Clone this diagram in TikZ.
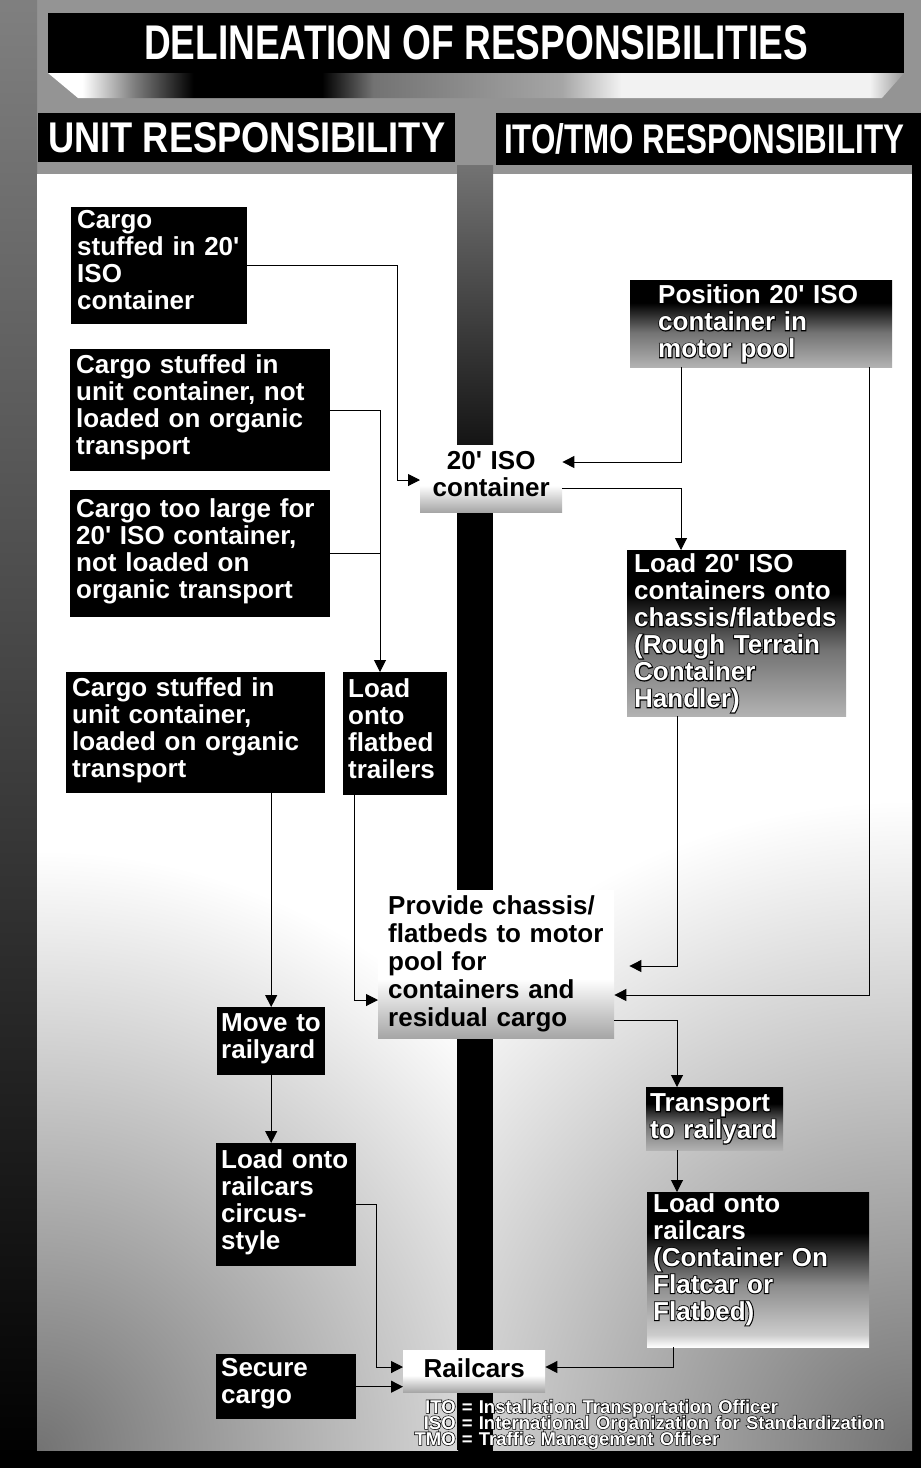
\documentclass[tikz,border=0pt]{standalone}
\usepackage{graphicx}
\usepackage{fontspec}
\setmainfont{Liberation Sans}
\newfontfamily\olfont{Liberation Sans Bold}[FakeBold=7]
\usetikzlibrary{arrows.meta}
\hyphenpenalty=10000
\exhyphenpenalty=10000
\newcommand{\apos}{\textquotesingle}
\newcommand{\ol}[1]{\leavevmode\rlap{\olfont\mdseries\color{black}#1}#1}
\newcommand{\dn}[1][11pt]{\rule[-#1]{0pt}{#1}}
\pgfdeclarehorizontalshading{undershade}{100bp}{color(0bp)=(white); color(25bp)=(white); color(27bp)=(white); color(30bp)=(black!50); color(33.5bp)=(black); color(41bp)=(black); color(44bp)=(black!55); color(55bp)=(black!35); color(58.5bp)=(black!5); color(73bp)=(black!5); color(75bp)=(black!40); color(100bp)=(black!40)}
\pgfdeclareverticalshading{gradA}{100bp}{color(0bp)=(black!30); color(25bp)=(black!30); color(45bp)=(black!55); color(62bp)=(black); color(100bp)=(black)}
\pgfdeclareverticalshading{gradB}{100bp}{color(0bp)=(white); color(25bp)=(white); color(29bp)=(black!20); color(45bp)=(black!45); color(62bp)=(black); color(100bp)=(black)}
\pgfdeclareverticalshading{labshade}{100bp}{color(0bp)=(black!35); color(25bp)=(black!35); color(35bp)=(black!18); color(45bp)=(white); color(100bp)=(white)}
\tikzset{
  blk/.style={fill=black, text=white, anchor=north west, align=left, inner ysep=0pt,
    font=\bfseries\fontsize{26}{27}\selectfont},
  grd/.style={shade, shading=gradA, text=white, anchor=north west, align=left, inner ysep=0pt,
    font=\bfseries\fontsize{26}{27}\selectfont},
  lab/.style={shade, shading=labshade, text=black, anchor=north west, inner sep=0pt,
    font=\bfseries\fontsize{26}{27}\selectfont},
  hdr/.style={fill=black, text=white, anchor=north west, inner sep=0pt},
  arr/.style={line width=1pt, -{Triangle[length=12pt,width=12pt]}},
  ln/.style={line width=1pt},
}
\begin{document}
\begin{tikzpicture}[x=1pt,y=-1pt]
\useasboundingbox (0,0) rectangle (921,1468);
% background
\fill[black!42] (0,0) rectangle (921,1468);
\shade[top color=black!50, bottom color=black] (0,0) rectangle (37,1468);
\fill[black] (0,1450) rectangle (921,1468);
\fill[black] (912,113) rectangle (921,1468);
% panels
\begin{scope}
\clip (37,174) rectangle (458,1450);
\fill[white] (37,174) rectangle (458,1450);
\shade[inner color=black!55, outer color=white] (37,1450) circle (600pt);
\end{scope}
\begin{scope}
\clip (493,174) rectangle (912,1450);
\fill[white] (493,174) rectangle (912,1450);
\shade[inner color=black!55, outer color=white] (912,1450) circle (650pt);
\end{scope}
% middle bar
\shade[top color=black!55, bottom color=black!92] (457,165) rectangle (493,445);
\fill[black] (457,445) rectangle (493,1450);
% title
\shade[shading=undershade] (48,73) -- (904,73) -- (882,98) -- (78,98) -- cycle;
\node[hdr, minimum width=856pt, minimum height=60pt] (title) at (48,13)
  {\resizebox{664pt}{34pt}{\bfseries DELINEATION OF RESPONSIBILITIES}};
\node[hdr, minimum width=417pt, minimum height=49pt] (unit) at (38,113)
  {\resizebox{397pt}{30pt}{\bfseries UNIT RESPONSIBILITY}};
\node[hdr, minimum width=416pt, minimum height=52pt] (ito) at (496,113)
  {\resizebox{400pt}{30pt}{\bfseries ITO/TMO RESPONSIBILITY}};
% unit column
\node[blk, minimum width=176pt, minimum height=117pt, text width=164pt, inner xsep=6pt] (n1) at (71,207)
  {Cargo\\stuffed in 20\apos\\ISO\\container\dn};
\node[blk, minimum width=260pt, minimum height=122pt, text width=248pt, inner xsep=6pt] (n2) at (70,349)
  {Cargo stuffed in\\unit container, not\\loaded on organic\\transport\dn};
\node[blk, minimum width=260pt, minimum height=127pt, text width=248pt, inner xsep=6pt] (n3) at (70,490)
  {Cargo too large for\\20\apos{} ISO container,\\not loaded on\\organic transport\dn};
\node[blk, minimum width=259pt, minimum height=121pt, text width=247pt, inner xsep=6pt] (n4) at (66,672)
  {Cargo stuffed in\\unit container,\\loaded on organic\\transport\dn};
\node[blk, minimum width=104pt, minimum height=123pt, text width=94pt, inner xsep=5pt] (n5) at (343,672)
  {Load\\onto\\flatbed\\trailers\dn};
\node[blk, minimum width=108pt, minimum height=68pt, text width=100pt, inner xsep=4pt] (n6) at (217,1007)
  {Move to\\railyard\dn};
\node[blk, minimum width=140pt, minimum height=123pt, text width=130pt, inner xsep=5pt] (n7) at (216,1143)
  {Load onto\\railcars\\circus-\\style\dn};
\node[blk, minimum width=140pt, minimum height=65pt, text width=130pt, inner xsep=5pt] (n8) at (216,1354)
  {Secure\\cargo\dn};
% ITO/TMO column
\node[grd, minimum width=262pt, minimum height=87pt, text width=206pt, inner xsep=28pt] (p9) at (630,280)
  {\ol{Position 20\apos{} ISO}\\\ol{container in}\\\ol{motor pool}};
\node[grd, minimum width=219pt, minimum height=166pt, text width=205pt, inner xsep=7pt] (l10) at (627,550)
  {\ol{Load 20\apos{} ISO}\\\ol{containers onto}\\\ol{chassis/flatbeds}\\\ol{(Rough Terrain}\\\ol{Container}\\\ol{Handler)}};
\node[grd, minimum width=137pt, minimum height=63pt, text width=129pt, inner xsep=4pt] (t11) at (646,1087)
  {\ol{Transport}\\\ol{to railyard}};
\node[grd, shading=gradB, minimum width=222pt, minimum height=155pt, text width=210pt, inner xsep=6pt] (l12) at (647,1192)
  {\ol{Load onto}\\\ol{railcars}\\\ol{(Container On}\\\ol{Flatcar or}\\\ol{Flatbed)}\dn[26pt]};
% middle labels
\node[lab, minimum width=142pt, minimum height=67pt, text width=142pt, align=center] (iso) at (420,445)
  {20\apos{} ISO\\container\dn[9pt]};
\node[lab, minimum width=236pt, minimum height=148pt, text width=216pt, inner xsep=10pt, align=left,
  font=\bfseries\fontsize{26}{28}\selectfont] (prov) at (378,890)
  {Provide chassis/\\flatbeds to motor\\pool for\\containers and\\residual cargo};
\node[lab, minimum width=142pt, minimum height=42pt, text width=142pt, align=center] (rail) at (403,1350)
  {Railcars\dn[7pt]};
% connectors
\coordinate (ja) at (397,480);
\draw[arr] (n1.east) -| (ja) -- (iso.west |- ja);
\coordinate (xb) at (380,0);
\draw[arr] (n2.east) -| (n5.north -| xb);
\draw[ln] (n3.east) -- (n3.east -| xb);
\coordinate (jd) at (681,462);
\draw[arr] (p9.south -| jd) -- (jd) -- (iso.east |- jd);
\coordinate (je) at (681,488);
\draw[arr] (iso.east |- je) -| (l10.north -| je);
\coordinate (jf) at (869,995);
\draw[arr] (p9.south -| jf) -- (jf) -- (prov.east |- jf);
\coordinate (jg) at (677,966);
\draw[arr, shorten >=15pt] (l10.south -| jg) -- (jg) -- (prov.east |- jg);
\coordinate (jh) at (677,1020);
\draw[arr] (prov.east |- jh) -| (t11.north -| jh);
\draw[arr] (t11.south -| jh) -- (l12.north -| jh);
\coordinate (jj) at (673,1367);
\draw[arr] (l12.south -| jj) -- (jj) -- (rail.east |- jj);
\draw[arr] (n4.south -| n6.north) -- (n6.north);
\coordinate (jl) at (354,1000);
\draw[arr] (n5.south -| jl) -- (jl) -- (prov.west |- jl);
\draw[arr] (n6.south) -- (n7.north -| n6.south);
\coordinate (jn) at (376,1367);
\draw[arr] (n7.east) -| (jn) -- (rail.west |- jn);
\draw[arr] (n8.east) -- (rail.west |- n8.east);
% legend
\node[anchor=base west, inner sep=0pt, text=white, align=left, text width=520pt,
  font={\bfseries\fontsize{18.5}{16}\selectfont\lineskiplimit=-50pt}] (leg) at (414,1413)
  {\ol{\makebox[41.5pt][r]{ITO} = Installation Transportation Officer}\\
   \ol{\makebox[41.5pt][r]{ISO} = International Organization for Standardization}\\
   \ol{\makebox[41.5pt][r]{TMO} = Traffic Management Officer}};
\end{tikzpicture}
\end{document}
